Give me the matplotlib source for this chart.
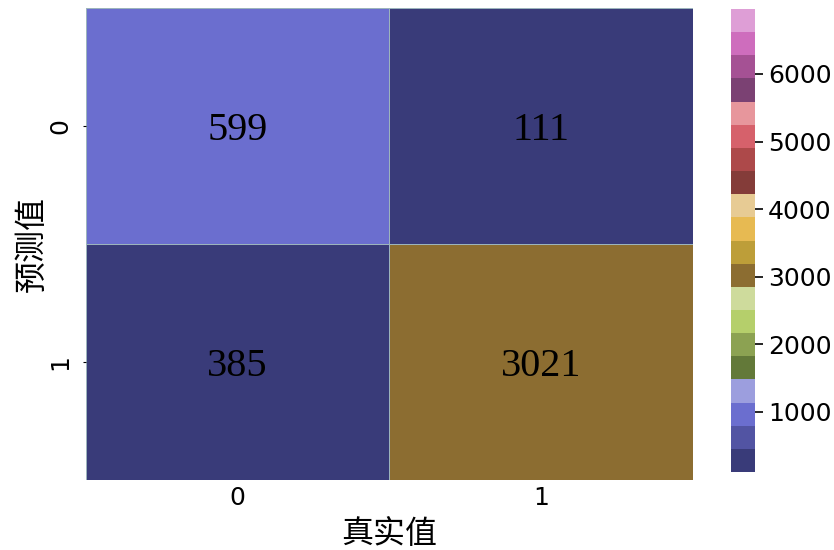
import matplotlib
matplotlib.use("Agg")
import matplotlib.pyplot as plt
import seaborn as sns
import numpy as np

# confusion matrix (rows: predicted, cols: true)
labels = ["0", "1"]
annot_values = [[599, 111],
                [385, 3021]]
# values behind the cell colours
color_values = [[970, 111],
                [385, 3021]]
cbar_ticks = [1000, 2000, 3000, 4000, 5000, 6000]
vmin, vmax = 111, 6960

plt.rcParams['font.family'] = ['DejaVu Sans', 'Noto Sans CJK SC']

fig = plt.figure(figsize=(8.34, 5.5), dpi=100)
ax = fig.add_axes([0.1031, 0.1273, 0.7278, 0.8582])
cax = fig.add_axes([0.8765, 0.1418, 0.0288, 0.8418])

sns.heatmap(np.array(color_values), ax=ax, cbar_ax=cax, cmap='tab20b',
            vmin=vmin, vmax=vmax, annot=np.array(annot_values), fmt='d',
            linewidths=0.7, linecolor='#9cb4bc',
            annot_kws={'fontsize': 29, 'family': 'Liberation Serif',
                       'color': 'black', 'va': 'center_baseline'},
            xticklabels=labels, yticklabels=labels)

ax.tick_params(axis='x', length=0, labelsize=18, pad=4)
ax.tick_params(axis='y', length=2, labelsize=18, pad=8)
plt.setp(ax.get_yticklabels(), rotation=90, va='center')
ax.set_xlabel('真实值', fontsize=23, family=['Noto Sans CJK SC', 'DejaVu Sans'], labelpad=6)
ax.set_ylabel('预测值', fontsize=23, family=['Noto Sans CJK SC', 'DejaVu Sans'], labelpad=0)

cb = ax.collections[0].colorbar
cb.set_ticks(cbar_ticks)
cb.ax.tick_params(labelsize=18, length=6, width=1.2)
cb.outline.set_linewidth(0)

plt.savefig("out.png", dpi=100)
